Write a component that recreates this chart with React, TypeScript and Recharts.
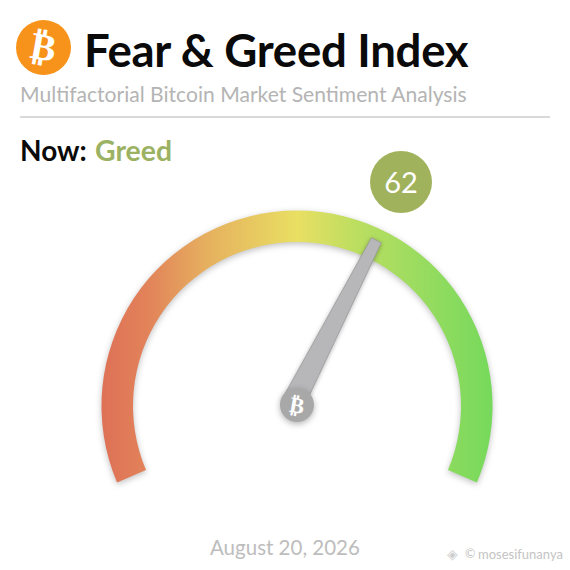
import React from "react";
import { PieChart, Pie, Cell } from "recharts";

const titleText = "Fear & Greed Index";
const subtitleText = "Multifactorial Bitcoin Market Sentiment Analysis";
const nowLabel = "Now:";
const statusLabel = "Greed";
const dateLabel = "August 20, 2026";
const watermark = "mosesifunanya";
const indexValue = 62;
const scaleMax = 100;
const trackData = [{ name: "scale", value: scaleMax }];
const needleData = [
  { name: "index", value: indexValue },
  { name: "rest", value: scaleMax - indexValue },
];
const gradientStops = [
  { at: "0%", color: "#DE7156" },
  { at: "12%", color: "#E2835A" },
  { at: "27%", color: "#E6B05F" },
  { at: "50%", color: "#E9DF63" },
  { at: "65%", color: "#BCDE60" },
  { at: "82%", color: "#98DC60" },
  { at: "100%", color: "#76D95B" },
];

const FONT = "Lato, sans-serif";
const CX = 297;
const CY = 406;
const HUB_Y = 405;
const START = 203;
const END = -23;

function Needle(props: any) {
  if (props.index !== 0) return null;
  const a = (props.endAngle * Math.PI) / 180;
  const ux = Math.cos(a);
  const uy = -Math.sin(a);
  const px = -uy;
  const py = ux;
  const bx = CX - 5;
  const tip = 185;
  const pts = [
    [bx + ux * tip + px * 5.5, HUB_Y + uy * tip + py * 5.5],
    [bx + ux * tip - px * 5.5, HUB_Y + uy * tip - py * 5.5],
    [bx - px * 11.5, HUB_Y - py * 11.5],
    [bx + px * 11.5, HUB_Y + py * 11.5],
  ]
    .map((p) => p.join(","))
    .join(" ");
  return (
    <g>
      <polygon points={pts} fill="#B7B7B9" stroke="#9A9A9A" strokeWidth={0.8} style={{ filter: "drop-shadow(0 1px 2px rgba(0,0,0,0.3))" }} />
      <circle cx={CX} cy={HUB_Y} r={17} fill="#A8A8A8" style={{ filter: "drop-shadow(0 2px 3px rgba(0,0,0,0.3))" }} />
      <text x={CX} y={HUB_Y + 8} textAnchor="middle" transform={`rotate(10 ${CX} ${HUB_Y})`} fontFamily="DejaVu Sans" fontWeight="bold" fontSize={22} fill="#fff">₿</text>
    </g>
  );
}

const abs = (left: number, top: number, extra: React.CSSProperties): React.CSSProperties => ({
  position: "absolute",
  left,
  top,
  fontFamily: FONT,
  whiteSpace: "nowrap",
  lineHeight: 1,
  ...extra,
});

export default function App() {
  return (
    <div style={{ position: "absolute", left: 0, top: 0, width: 570, height: 570, background: "#fff", overflow: "hidden" }}>
      <div style={{ position: "absolute", left: 16, top: 20, width: 55, height: 55, borderRadius: "50%", background: "#F7931A", color: "#fff", fontFamily: "DejaVu Sans", fontWeight: "bold", fontSize: 38, textAlign: "center", lineHeight: "55px", transform: "rotate(10deg)" }}>₿</div>
      <div style={abs(84, 27, { fontSize: 45.6, fontWeight: 700, color: "#0a0a0a", letterSpacing: -0.3 })}>{titleText}</div>
      <div style={abs(20, 83, { fontSize: 21.1, color: "#B4B4B4" })}>{subtitleText}</div>
      <div style={{ position: "absolute", left: 20, top: 116, width: 530, height: 2, background: "#D9D9D9" }} />
      <div style={abs(20, 136, { fontSize: 28, fontWeight: 700, color: "#0a0a0a" })}>{nowLabel}</div>
      <div style={abs(95, 136, { fontSize: 28.4, fontWeight: 700, color: "#9CB263" })}>{statusLabel}</div>
      <PieChart width={570} height={570} margin={{ top: 0, right: 0, bottom: 0, left: 0 }} style={{ position: "absolute", left: 0, top: 0 }}>
        <defs>
          <linearGradient id="gaugeFill" x1="0" y1="0" x2="1" y2="0">
            {gradientStops.map((s) => (
              <stop key={s.at} offset={s.at} stopColor={s.color} />
            ))}
          </linearGradient>
        </defs>
        <Pie data={trackData} dataKey="value" cx={CX} cy={CY} innerRadius={164} outerRadius={195.5} startAngle={START} endAngle={END} stroke="none" isAnimationActive={false}>
          <Cell fill="url(#gaugeFill)" style={{ filter: "drop-shadow(0 2px 3px rgba(0,0,0,0.25))" }} />
        </Pie>
        <Pie data={needleData} dataKey="value" cx={CX} cy={CY} innerRadius={164} outerRadius={195.5} startAngle={START} endAngle={END} stroke="none" fill="none" isAnimationActive={false} labelLine={false} label={(p: any) => <Needle {...p} />}>
          {needleData.map((d) => (
            <Cell key={d.name} fill="none" />
          ))}
        </Pie>
      </PieChart>
      <div style={{ position: "absolute", left: 370, top: 151, width: 62, height: 62, borderRadius: "50%", background: "#A0B25C", color: "#fff", fontFamily: FONT, fontSize: 29, fontWeight: 400, textAlign: "center", lineHeight: "62px" }}>{indexValue}</div>
      <div style={abs(210, 537, { fontSize: 20.5, color: "#BDBDBD" })}>{dateLabel}</div>
      <div style={abs(447, 547, { fontSize: 14, color: "#CFCFCF" })}>◈</div>
      <div style={abs(465, 548, { fontSize: 12.5, color: "#C4C4C4" })}>©</div>
      <div style={abs(478, 548, { fontSize: 13, color: "#C4C4C4" })}>{watermark}</div>
    </div>
  );
}
